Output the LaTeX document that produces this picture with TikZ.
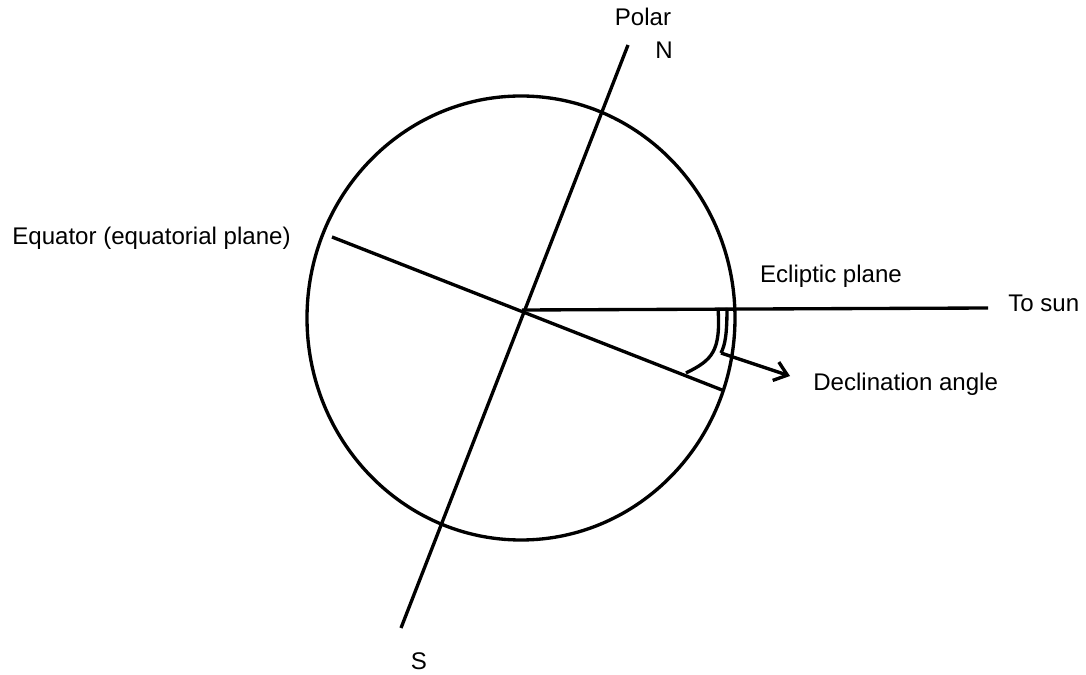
\documentclass[tikz,border=0pt]{standalone}
\usepackage{fontspec}
\setmainfont{Liberation Sans}
\usetikzlibrary{positioning,arrows.meta}

\begin{document}
\begin{tikzpicture}[
    x=0.02cm, y=-0.02cm,
    font=\fontsize{13.7}{15}\selectfont,
    axis/.style={line width=1.9pt},
    arrow/.style={-{Straight Barb[length=7pt,width=11pt]}, line width=1.9pt},
    label/.style={inner sep=0pt}
]
\useasboundingbox (0,0) rectangle (1086,675);

\coordinate (centre) at (522,310);
\coordinate (polN) at (628,45);
\coordinate (polS) at (401,628);
\coordinate (eqL) at (332,237);
\coordinate (eqR) at (722,390);
\coordinate (sun) at (988,308);
\coordinate (arcA) at (718,308);
\coordinate (arcB) at (686,373);
\coordinate (arcC) at (727,308);
\coordinate (arcD) at (721,353);
\coordinate (tip) at (790,376);

\draw[axis] (521,318) ellipse [x radius=214, y radius=222];
\draw[axis] (polN) -- (polS);
\draw[axis] (eqL) -- (eqR);
\draw[axis] (centre) -- (sun);
\draw[axis] (arcA) .. controls (721,352) and (712,360) .. (arcB);
\draw[axis] (arcC) .. controls (727,335) and (725,345) .. (arcD);
\draw[arrow] (arcD) -- (tip);

\node[label] (polar) at (643,17) {Polar};
\node[label] (north) at (664,50) {N};
\node[label] (south) at (419,661) {S};
\node[label, anchor=west] (equator) at (12,238) {Equator (equatorial plane)};
\node[label] (ecliptic) at (831,276) {Ecliptic plane};
\node[label, anchor=west] (tosun) at (1008,303) {To sun};
\node[label, anchor=west] (declin) at (813,384) {Declination angle};

\end{tikzpicture}
\end{document}
